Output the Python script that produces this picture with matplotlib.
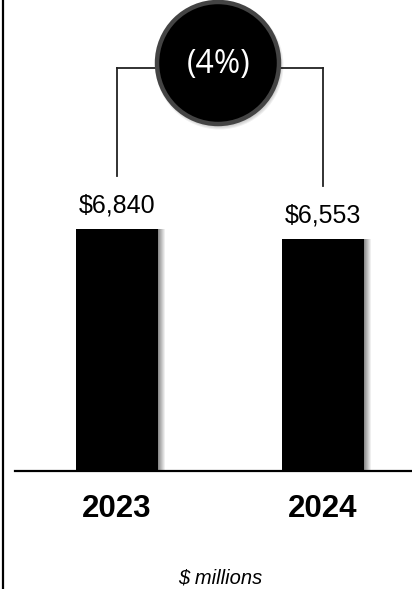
import matplotlib
matplotlib.use("Agg")
import matplotlib.pyplot as plt
from matplotlib.patches import Circle, Rectangle

# Data
years = ["2023", "2024"]
values = [6840, 6553]
value_labels = ["$6,840", "$6,553"]
change_label = "(4%)"
unit_label = "$ millions"

W, H = 412, 589
fig = plt.figure(figsize=(W / 100, H / 100), dpi=100)
fig.patch.set_facecolor("white")

# Main axes: baseline at pixel row 471, spanning x 15..412
base_px = 471
ax = fig.add_axes([15 / W, (H - base_px) / H, (W - 15) / W, base_px / H])
px_per_unit = 206.0
ax.set_xlim(-(117 - 15) / px_per_unit, (W - 117) / px_per_unit)
data_per_px = values[0] / 242.0
ax.set_ylim(0, base_px * data_per_px)
ax.axis("off")

bar_w = 82 / px_per_unit
xs = list(range(len(years)))
ax.bar(xs, values, width=bar_w, color="black", zorder=3)

# soft shadow on the right side of each bar
shadow_px = 7
for x, v in zip(xs, values):
    x0 = x + bar_w / 2
    for i in range(shadow_px):
        a = 0.45 * (1 - i / shadow_px)
        ax.add_patch(Rectangle((x0 + i / px_per_unit, 0), 1 / px_per_unit, v,
                               color="black", alpha=a, lw=0, zorder=2))

# value labels above bars
for x, v, lab in zip(xs, values, value_labels):
    ax.text(x, v + 24 * data_per_px, lab, ha="center", va="center",
            fontsize=18, family="Liberation Sans", color="black")

# baseline
ax.plot([ax.get_xlim()[0], ax.get_xlim()[1]], [0, 0], color="black", lw=1.6,
        zorder=4, clip_on=False)

# bracket connecting the bars to the change bubble
bracket_y = (base_px - 68) * data_per_px
for x, v in zip(xs, values):
    ax.plot([x, x], [v + 53 * data_per_px, bracket_y], color="#222222", lw=1.3,
            zorder=1)
ax.plot([xs[0], xs[1]], [bracket_y, bracket_y], color="#222222", lw=1.3, zorder=1)

# year labels
for x, y in zip(xs, years):
    ax.text(x, -(509 - base_px) * data_per_px, y, ha="center", va="center",
            fontsize=22.5, fontweight="bold", family="Liberation Sans",
            color="black", clip_on=False)

# overlay in pixel coordinates
ov = fig.add_axes([0, 0, 1, 1])
ov.set_xlim(0, W)
ov.set_ylim(H, 0)
ov.axis("off")
ov.patch.set_alpha(0)

# left border
ov.plot([3, 3], [0, H], color="black", lw=1.6)

# change bubble with drop shadow
cx, cy, r = 218, 63, 61
for i, a in enumerate([0.06, 0.06, 0.05, 0.04]):
    ov.add_patch(Circle((cx + 1.5, cy + 2.5), r + 3 - i, color="black",
                        alpha=a, lw=0))
ov.add_patch(Circle((cx, cy), r, facecolor="black", edgecolor="#444444",
                    lw=3.2))
ov.text(cx + 1, cy + 1, change_label, ha="center", va="center", fontsize=23,
        family="Open Sans", color="white")

# unit note
ov.text(220, 578, unit_label, ha="center", va="center", fontsize=14.5,
        style="italic", family="Liberation Sans", color="black")

fig.savefig("out.png", dpi=100, facecolor="white")
